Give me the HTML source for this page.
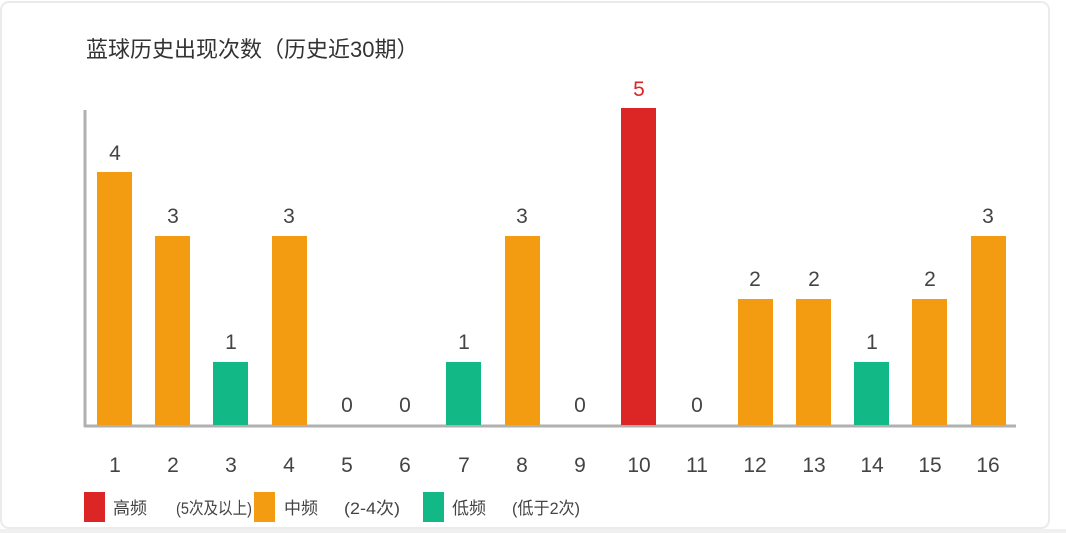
<!DOCTYPE html>
<html><head><meta charset="utf-8"><style>
html,body{margin:0;padding:0;background:#fff;}
svg{display:block;font-family:"Liberation Sans","Noto Sans CJK SC",sans-serif;}
</style></head><body>
<svg width="1066" height="533" xmlns="http://www.w3.org/2000/svg">
<rect x="1" y="2" width="1048" height="526" rx="8" fill="#fff" stroke="#ebebeb" stroke-width="2"/>
<rect x="0" y="529" width="1066" height="4" fill="#f0f0f0"/>
<text x="86" y="57" font-size="22" fill="#333">蓝球历史出现次数（历史近30期）</text>
<line x1="85" y1="110" x2="85" y2="427" stroke="#b0b0b0" stroke-width="3"/>
<line x1="84" y1="426" x2="1016" y2="426" stroke="#b0b0b0" stroke-width="3"/>
<g font-size="21" fill="#444" text-anchor="middle">
<rect x="97" y="172" width="35" height="253" fill="#f39c12"/><text x="115" y="160">4</text>
<rect x="155" y="236" width="35" height="189" fill="#f39c12"/><text x="173" y="223">3</text>
<rect x="213" y="362" width="35" height="63" fill="#12b886"/><text x="231" y="349">1</text>
<rect x="272" y="236" width="35" height="189" fill="#f39c12"/><text x="289" y="223">3</text>
<text x="347" y="412">0</text>
<text x="405" y="412">0</text>
<rect x="446" y="362" width="35" height="63" fill="#12b886"/><text x="464" y="349">1</text>
<rect x="505" y="236" width="35" height="189" fill="#f39c12"/><text x="522" y="223">3</text>
<text x="580" y="412">0</text>
<rect x="621" y="108" width="35" height="317" fill="#dc2626"/><text x="639" y="96" fill="#dc2626">5</text>
<text x="697" y="412">0</text>
<rect x="738" y="299" width="35" height="126" fill="#f39c12"/><text x="755" y="286">2</text>
<rect x="796" y="299" width="35" height="126" fill="#f39c12"/><text x="814" y="286">2</text>
<rect x="854" y="362" width="35" height="63" fill="#12b886"/><text x="872" y="349">1</text>
<rect x="912" y="299" width="35" height="126" fill="#f39c12"/><text x="930" y="286">2</text>
<rect x="971" y="236" width="35" height="189" fill="#f39c12"/><text x="988" y="223">3</text>
</g>
<g font-size="21" fill="#444" text-anchor="middle">
<text x="115" y="472">1</text><text x="173" y="472">2</text><text x="231" y="472">3</text><text x="289" y="472">4</text>
<text x="347" y="472">5</text><text x="405" y="472">6</text><text x="464" y="472">7</text><text x="522" y="472">8</text>
<text x="580" y="472">9</text><text x="639" y="472">10</text><text x="697" y="472">11</text><text x="755" y="472">12</text>
<text x="814" y="472">13</text><text x="872" y="472">14</text><text x="930" y="472">15</text><text x="988" y="472">16</text>
</g>
<g font-size="17" fill="#444">
<rect x="84" y="492" width="21" height="30" fill="#dc2626"/>
<text x="113" y="514">高频</text><text x="176" y="514" textLength="76" lengthAdjust="spacingAndGlyphs">(5次及以上)</text>
<rect x="254" y="492" width="21" height="30" fill="#f39c12"/>
<text x="284" y="514">中频</text><text x="344" y="514" textLength="56" lengthAdjust="spacingAndGlyphs">(2-4次)</text>
<rect x="423" y="492" width="21" height="30" fill="#12b886"/>
<text x="452" y="514">低频</text><text x="512" y="514" textLength="68" lengthAdjust="spacingAndGlyphs">(低于2次)</text>
</g>
</svg>
</body></html>
